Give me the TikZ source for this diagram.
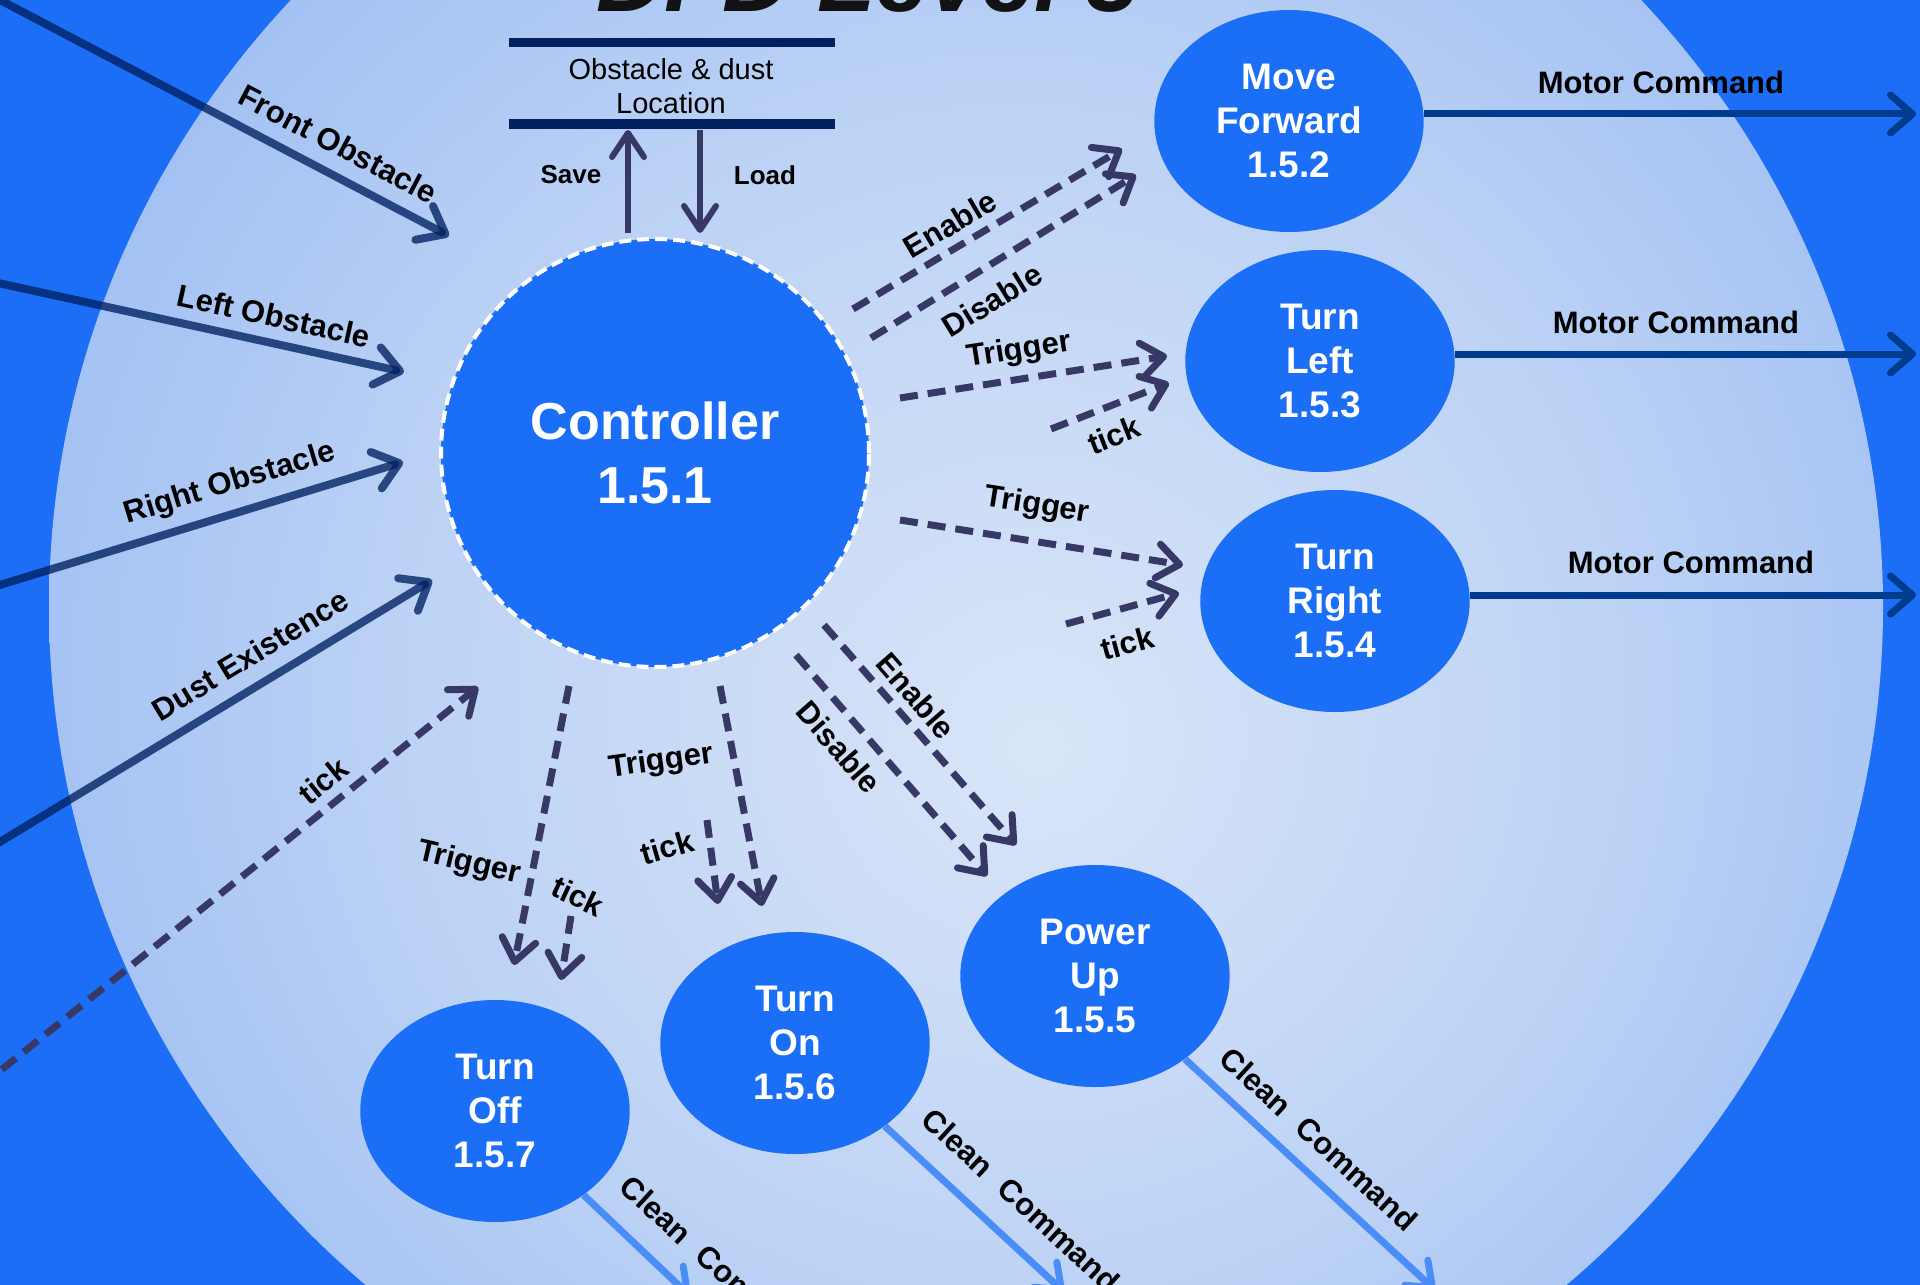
\documentclass[tikz,border=0pt]{standalone}
\usepackage{fontspec}
\setmainfont{Liberation Sans}
\usetikzlibrary{arrows.meta,shapes.geometric}

\definecolor{bgblue}{HTML}{1B6EF5}
\definecolor{bgedge}{HTML}{4050C0}
\definecolor{procblue}{HTML}{1A6FF6}
\definecolor{flowdark}{HTML}{383866}
\definecolor{storenavy}{HTML}{002060}
\definecolor{motorblue}{HTML}{003C8E}
\definecolor{cleanblue}{HTML}{4A8DF6}
\definecolor{discin}{HTML}{D9E5F8}
\definecolor{discmid}{HTML}{BCD2F5}
\definecolor{discout}{HTML}{8EB3F2}

\pgfdeclareradialshading{pagebg}{\pgfpoint{0bp}{0bp}}{color(0bp)=(bgblue); color(36bp)=(bgblue); color(50bp)=(bgedge)}
\pgfdeclareradialshading{discbg}{\pgfpoint{2bp}{-4bp}}{color(0bp)=(discin); color(17bp)=(discmid); color(35bp)=(discout); color(50bp)=(discout)}

\tikzset{
  proc/.style={ellipse, fill=procblue, text=white, align=center, inner sep=0pt,
    font=\bfseries\fontsize{18.5}{22}\selectfont,
    minimum width=134.7pt, minimum height=111pt},
  ctrlproc/.style={circle, fill=procblue, text=white, align=center, inner sep=0pt,
    draw=white, line width=2pt, dash pattern=on 6pt off 3pt,
    font=\bfseries\fontsize{26}{32}\selectfont, minimum size=214pt},
  lbl/.style={font=\bfseries\fontsize{15.5}{18}\selectfont, text=black, inner sep=0pt},
  smalllbl/.style={font=\bfseries\fontsize{13}{15}\selectfont, text=black, inner sep=0pt},
  sensor/.style={draw=storenavy, draw opacity=0.78, line width=4pt, line cap=round,
    -{Straight Barb[length=12pt,width=19pt,round]}},
  ctrlflow/.style={draw=flowdark, line width=3.5pt, dash pattern=on 9pt off 5pt,
    -{Straight Barb[length=11pt,width=17pt,round]}},
  storeflow/.style={draw=flowdark, line width=3pt,
    -{Straight Barb[length=12pt,width=16pt,round]}},
  motorflow/.style={draw=motorblue, line width=3.5pt,
    -{Straight Barb[length=11pt,width=19pt,round]}},
  cleanflow/.style={draw=cleanblue, line width=3.5pt,
    -{Straight Barb[length=11pt,width=17pt,round]}},
  storebar/.style={draw=storenavy, line width=4.5pt}
}

\begin{document}
\begin{tikzpicture}[x=0.5pt,y=-0.5pt]
\useasboundingbox (0,0) rectangle (1920,1284);

% backdrop and the large pale disc
\shade[shading=pagebg] (0,0) rectangle (1920,1284);
\shade[shading=discbg] (966,607) ellipse [x radius=917, y radius=897];

% title
\node[anchor=base, inner sep=0pt, font=\bfseries\itshape\fontsize{47.5}{50}\selectfont, text=black!93] (title) at (868,12) {DFD Level 3};

% data store
\draw[storebar] (509,43) -- (835,43);
\draw[storebar] (509,124) -- (835,124);
\node[align=center, inner sep=0pt, font=\fontsize{14.5}{17}\selectfont] (store) at (671,86) {Obstacle \& dust\\Location};

% processes
\node[ctrlproc] (ctrl) at (655,453) {Controller\\1.5.1};
\node[proc] (mf) at (1289,121) {Move\\Forward\\1.5.2};
\node[proc] (tl) at (1320,361) {Turn\\Left\\1.5.3};
\node[proc] (tr) at (1335,601) {Turn\\Right\\1.5.4};
\node[proc] (pu) at (1095,976) {Power\\Up\\1.5.5};
\node[proc] (ton) at (795,1043) {Turn\\On\\1.5.6};
\node[proc] (toff) at (495,1111) {Turn\\Off\\1.5.7};

% end points of the flows
\coordinate (fo-s) at (-40,-21);   \coordinate (fo-e) at (449,236);
\coordinate (lo-s) at (-20,279);   \coordinate (lo-e) at (404,372);
\coordinate (ro-s) at (-20,591);   \coordinate (ro-e) at (403,462);
\coordinate (de-s) at (-20,854);   \coordinate (de-e) at (432,580);
\coordinate (tk-s) at (-20,1087);  \coordinate (tk-e) at (478,687);

\coordinate (sv-s) at (628,233);   \coordinate (sv-e) at (628,130);
\coordinate (ld-s) at (700,130);   \coordinate (ld-e) at (700,233);

\coordinate (en2-s) at (853,309);  \coordinate (en2-e) at (1122,149);
\coordinate (ds2-s) at (871,338);  \coordinate (ds2-e) at (1136,175);
\coordinate (tg3-s) at (900,398);  \coordinate (tg3-e) at (1167,356);
\coordinate (tc3-s) at (1051,429); \coordinate (tc3-e) at (1169,383);
\coordinate (tg4-s) at (900,520);  \coordinate (tg4-e) at (1183,565);
\coordinate (tc4-s) at (1066,624); \coordinate (tc4-e) at (1179,593);
\coordinate (tg7-s) at (569,686);  \coordinate (tg7-e) at (514,965);
\coordinate (tc7-s) at (571,916);  \coordinate (tc7-e) at (561,980);
\coordinate (tg6-s) at (720,686);  \coordinate (tg6-e) at (762,906);
\coordinate (tc6-s) at (707,820);  \coordinate (tc6-e) at (718,904);
\coordinate (ds5-s) at (796,655);  \coordinate (ds5-e) at (987,876);
\coordinate (en5-s) at (824,625);  \coordinate (en5-e) at (1016,845);

\coordinate (mf-out) at (1916,114);
\coordinate (tl-out) at (1916,354);
\coordinate (tr-out) at (1916,595);
\coordinate (pu-out) at (1435,1290);
\coordinate (ton-out) at (1064,1292);
\coordinate (toff-out) at (690,1296);

% sensor inputs
\draw[sensor] (fo-s) -- (fo-e);
\draw[sensor] (lo-s) -- (lo-e);
\draw[sensor] (ro-s) -- (ro-e);
\draw[sensor] (de-s) -- (de-e);
\draw[ctrlflow] (tk-s) -- (tk-e);

% store access
\draw[storeflow] (sv-s) -- (sv-e);
\draw[storeflow] (ld-s) -- (ld-e);

% control flows
\draw[ctrlflow] (en2-s) -- (en2-e);
\draw[ctrlflow] (ds2-s) -- (ds2-e);
\draw[ctrlflow] (tg3-s) -- (tg3-e);
\draw[ctrlflow] (tc3-s) -- (tc3-e);
\draw[ctrlflow] (tg4-s) -- (tg4-e);
\draw[ctrlflow] (tc4-s) -- (tc4-e);
\draw[ctrlflow] (tg7-s) -- (tg7-e);
\draw[ctrlflow] (tc7-s) -- (tc7-e);
\draw[ctrlflow] (tg6-s) -- (tg6-e);
\draw[ctrlflow] (tc6-s) -- (tc6-e);
\draw[ctrlflow] (ds5-s) -- (ds5-e);
\draw[ctrlflow] (en5-s) -- (en5-e);

% outputs
\draw[motorflow] (mf.east |- mf-out) -- (mf-out);
\draw[motorflow] (tl.east |- tl-out) -- (tl-out);
\draw[motorflow] (tr.east |- tr-out) -- (tr-out);
\draw[cleanflow] (pu) -- (pu-out);
\draw[cleanflow] (ton) -- (ton-out);
\draw[cleanflow] (toff) -- (toff-out);

% flow labels
\node[smalllbl] (l-save) at (571,175) {Save};
\node[smalllbl] (l-load) at (765,175) {Load};
\node[lbl, rotate=-27.8] (l-front) at (338,144) {Front Obstacle};
\node[lbl, rotate=-12.4] (l-left) at (274,316) {Left Obstacle};
\node[lbl, rotate=17] (l-right) at (230,484) {Right Obstacle};
\node[lbl, rotate=31.2] (l-dust) at (250,655) {Dust Existence};
\node[lbl, rotate=38.8] (l-tickin) at (323,781) {tick};
\node[lbl, rotate=30.7] (l-en2) at (950,224) {Enable};
\node[lbl, rotate=31.6] (l-ds2) at (992,300) {Disable};
\node[lbl, rotate=8.9] (l-tg3) at (1019,351) {Trigger};
\node[lbl, rotate=21.3] (l-tc3) at (1114,435) {tick};
\node[lbl, rotate=-9] (l-tg4) at (1037,506) {Trigger};
\node[lbl, rotate=15.3] (l-tc4) at (1127,643) {tick};
\node[lbl, rotate=-13] (l-tg7) at (469,864) {Trigger};
\node[lbl, rotate=-25] (l-tc7) at (578,896) {tick};
\node[lbl, rotate=8] (l-tg6) at (661,762) {Trigger};
\node[lbl, rotate=16] (l-tc6) at (667,847) {tick};
\node[lbl, rotate=-49] (l-ds5) at (839,747) {Disable};
\node[lbl, rotate=-49] (l-en5) at (916,696) {Enable};
\node[lbl] (l-m2) at (1661,82) {Motor Command};
\node[lbl] (l-m3) at (1676,322) {Motor Command};
\node[lbl] (l-m4) at (1691,562) {Motor Command};
\node[lbl, rotate=-42.5] (l-c5) at (1319,1139) {Clean\hspace{0.6em}Command};
\node[lbl, rotate=-42.5] (l-c6) at (1021,1200) {Clean\hspace{0.6em}Command};
\node[lbl, rotate=-42.5] (l-c7) at (719,1267) {Clean\hspace{0.6em}Command};
\end{tikzpicture}
\end{document}
